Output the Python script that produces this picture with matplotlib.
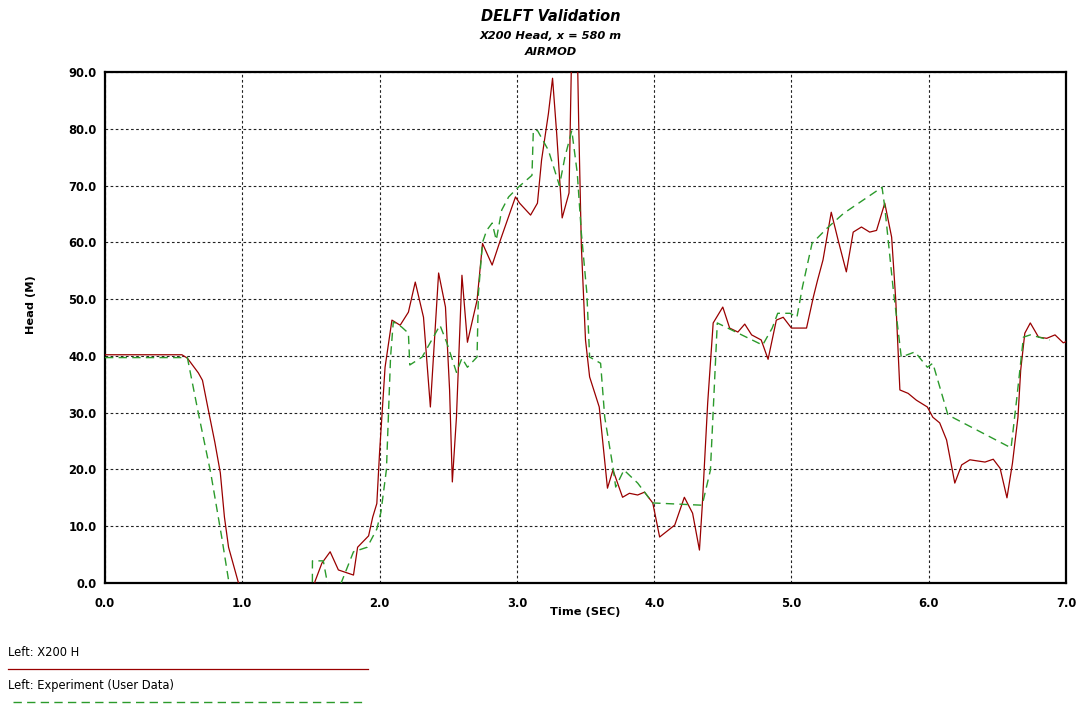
import matplotlib.pyplot as plt
from matplotlib.lines import Line2D
import numpy as np

# Modelo (X200 H) - tempo (s) e carga (m)
t_model = [0.00, 0.56, 0.60, 0.68, 0.71, 0.75, 0.80, 0.84, 0.87, 0.90, 0.97,
           1.10, 1.40, 1.52, 1.53, 1.58, 1.64, 1.70, 1.81, 1.84, 1.92, 1.95,
           1.98, 2.00, 2.04, 2.09, 2.15, 2.21, 2.26, 2.32, 2.37, 2.43, 2.48,
           2.51, 2.53, 2.56, 2.60, 2.64, 2.71, 2.75, 2.82, 2.88, 2.99, 3.02,
           3.10, 3.15, 3.18, 3.23, 3.26, 3.29, 3.33, 3.38, 3.40, 3.44, 3.45,
           3.47, 3.50, 3.53, 3.60, 3.66, 3.70, 3.77, 3.82, 3.88, 3.93, 3.99,
           4.04, 4.15, 4.22, 4.28, 4.33, 4.35, 4.39, 4.43, 4.50, 4.55, 4.61,
           4.66, 4.71, 4.78, 4.83, 4.89, 4.94, 5.00, 5.11, 5.16, 5.19, 5.23,
           5.29, 5.34, 5.40, 5.45, 5.51, 5.57, 5.62, 5.68, 5.73, 5.76, 5.79,
           5.85, 5.91, 5.99, 6.03, 6.08, 6.13, 6.19, 6.24, 6.30, 6.41, 6.47,
           6.52, 6.57, 6.61, 6.65, 6.67, 6.70, 6.74, 6.80, 6.86, 6.92, 6.98,
           7.00]
h_model = [40.2, 40.2, 39.6, 37.0, 35.7, 30.8, 24.8, 19.4, 11.6, 6.3, 0.2,
           -8.0, -8.0, -1.0, 0.3, 3.5, 5.5, 2.3, 1.4, 6.3, 8.3, 11.6,
           14.0, 23.0, 38.0, 46.3, 45.4, 47.7, 53.0, 46.8, 31.0, 54.6, 48.6,
           34.0, 17.8, 29.2, 54.2, 42.4, 49.8, 59.8, 56.0, 60.4, 68.0, 66.9,
           64.8, 66.9, 74.5, 82.7, 88.9, 79.2, 64.3, 68.7, 95.0, 95.0, 81.5,
           59.2, 42.8, 36.3, 31.0, 16.7, 19.9, 15.1, 15.8, 15.5, 16.0, 14.1,
           8.1, 10.2, 15.1, 12.3, 5.8, 13.4, 31.7, 45.8, 48.6, 44.9, 44.2,
           45.6, 43.7, 42.8, 39.4, 46.3, 46.8, 44.9, 44.9, 50.4, 53.3, 56.9,
           65.3, 60.4, 54.8, 61.8, 62.7, 61.8, 62.1, 66.9, 60.9, 49.8, 34.0,
           33.4, 32.2, 31.0, 29.2, 28.2, 25.2, 17.6, 20.8, 21.7, 21.3, 21.8,
           20.2, 15.0, 21.1, 29.2, 37.5, 44.0, 45.8, 43.3, 43.1, 43.7, 42.3,
           42.5]

# Experimento (dados do usuário)
t_exp = [0.00, 0.60, 0.68, 0.77, 0.85, 0.90, 0.93, 1.51, 1.511, 1.59, 1.62,
         1.65, 1.70, 1.72, 1.81, 1.91, 1.98, 2.01, 2.05, 2.08, 2.10, 2.16,
         2.21, 2.22, 2.31, 2.38, 2.44, 2.49, 2.56, 2.60, 2.64, 2.71, 2.72,
         2.75, 2.78, 2.82, 2.85, 2.89, 2.94, 3.01, 3.11, 3.12, 3.15, 3.23,
         3.31, 3.35, 3.40, 3.44, 3.47, 3.51, 3.53, 3.61, 3.64, 3.70, 3.72,
         3.78, 3.88, 3.99, 4.35, 4.41, 4.46, 4.79, 4.86, 4.90, 4.99, 5.04,
         5.08, 5.15, 5.26, 5.38, 5.52, 5.66, 5.68, 5.74, 5.80, 5.90, 5.99,
         6.03, 6.14, 6.60, 6.64, 6.69, 6.74, 6.88]
h_exp = [39.7, 39.7, 29.9, 19.4, 8.1, 0.5, -5.0, -5.0, 3.9, 3.9, 0.0,
         -3.0, -3.0, 0.0, 5.5, 6.3, 9.5, 12.5, 20.0, 39.8, 46.0, 45.1,
         44.0, 38.4, 39.8, 42.8, 45.4, 42.3, 37.1, 39.6, 38.0, 39.8, 51.0,
         60.0, 62.1, 63.4, 60.4, 65.7, 68.0, 69.7, 71.8, 79.7, 79.7, 76.2,
         70.0, 75.0, 79.7, 72.2, 61.6, 51.0, 39.8, 38.7, 29.2, 20.4, 16.9,
         19.9, 17.6, 14.1, 13.7, 19.9, 45.8, 41.9, 44.9, 47.5, 47.5, 46.8,
         52.1, 59.8, 62.5, 65.1, 67.4, 69.7, 66.2, 52.1, 39.8, 40.7, 38.0,
         38.7, 29.6, 23.8, 32.2, 43.3, 43.7, 42.8]

cor_modelo = '#990000'
cor_exp = '#2b9a2b'
tracejado = (0, (6.0, 3.8))

fig = plt.figure(figsize=(10.78, 7.07), dpi=100)
ax = fig.add_axes([105/1078, 1 - 583/707, (1066 - 105)/1078, (583 - 72)/707])

ax.plot(t_model, h_model, color=cor_modelo, lw=0.9, zorder=3)
ax.plot(t_exp, h_exp, color=cor_exp, lw=1.0, linestyle=tracejado, zorder=4)

ax.set_xlim(0, 7)
ax.set_ylim(0, 90)
ax.set_xticks(np.arange(0, 7.1, 1.0))
ax.set_yticks(np.arange(0, 90.1, 10.0))
ax.set_xticklabels([f'{v:.1f}' for v in np.arange(0, 7.1, 1.0)])
ax.set_yticklabels([f'{v:.1f}' for v in np.arange(0, 90.1, 10.0)])
ax.tick_params(axis='both', length=0, labelsize=8.3)
ax.tick_params(axis='x', pad=10)
ax.tick_params(axis='y', pad=6)
for lbl in ax.get_xticklabels() + ax.get_yticklabels():
    lbl.set_fontweight('bold')

ax.grid(True, color='#222222', linestyle=(0, (2.4, 2.2)), linewidth=0.8)
for s in ax.spines.values():
    s.set_linewidth(1.6)
    s.set_color('black')

# Títulos
fig.text(551/1078, 1 - 21/707, 'DELFT Validation', ha='center', va='baseline',
         fontsize=10.5, fontweight='bold', fontstyle='italic')
fig.text(551/1078, 1 - 39/707, 'X200 Head, x = 580 m', ha='center', va='baseline',
         fontsize=8.2, fontweight='bold', fontstyle='italic')
fig.text(551/1078, 1 - 55/707, 'AIRMOD', ha='center', va='baseline',
         fontsize=8.2, fontweight='bold', fontstyle='italic')

fig.text(585/1078, 1 - 612/707, 'Time (SEC)', ha='center', va='center',
         fontsize=8.2, fontweight='bold')
fig.text(31/1078, 1 - 305/707, 'Head (M)', ha='center', va='center',
         rotation=90, fontsize=8.2, fontweight='bold')

# Legenda abaixo do gráfico
fig.text(8/1078, 1 - 652/707, 'Left: X200 H', ha='left', va='center', fontsize=8.3)
fig.add_artist(Line2D([8/1078, 368/1078], [1 - 669/707, 1 - 669/707],
                      color=cor_modelo, lw=0.9, transform=fig.transFigure))
fig.text(8/1078, 1 - 685/707, 'Left: Experiment (User Data)', ha='left', va='center',
         fontsize=8.3)
fig.add_artist(Line2D([13/1078, 366/1078], [1 - 702/707, 1 - 702/707],
                      color=cor_exp, lw=1.0, linestyle=tracejado,
                      transform=fig.transFigure))

fig.savefig('out.png', dpi=100)
